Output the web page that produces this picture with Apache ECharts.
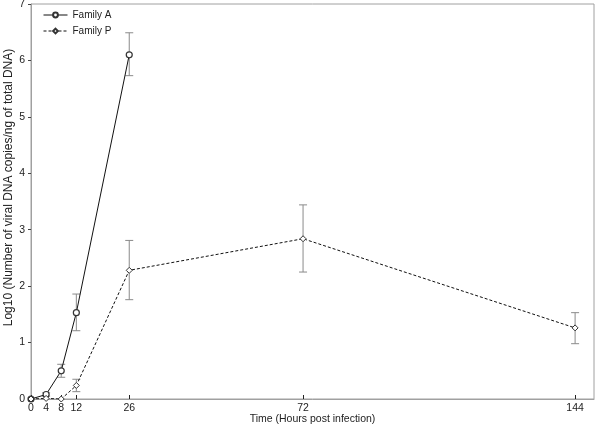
<!DOCTYPE html>
<html><head><meta charset="utf-8">
<script src="https://cdn.jsdelivr.net/npm/echarts@6/dist/echarts.min.js"></script>
<style>html,body{margin:0;padding:0;background:#fff}#c{width:600px;height:427px}</style>
</head><body><div id="c"></div>
<script>
var xTicks = [0, 4, 8, 12, 26, 72, 144];
var timeA = [0, 4, 8, 12, 26];
var valA = [0, 0.08, 0.50, 1.53, 6.10];
var lowA = [0, 0.05, 0.385, 1.21, 5.73];
var highA = [0, 0.11, 0.615, 1.86, 6.49];
var timeP = [0, 4, 8, 12, 26, 72, 144];
var valP = [0, 0.01, 0, 0.24, 2.28, 2.84, 1.26];
var lowP = [0, 0, 0, 0.13, 1.76, 2.25, 0.98];
var highP = [0, 0.02, 0, 0.35, 2.81, 3.44, 1.53];

function pts(t, v) { return t.map(function (x, i) { return [x, v[i]]; }); }
function errs(t, lo, hi) { return t.map(function (x, i) { return [x, lo[i], hi[i]]; }); }

function errRender(params, api) {
  var x = api.value(0);
  var p1 = api.coord([x, api.value(1)]);
  var p2 = api.coord([x, api.value(2)]);
  if (Math.abs(p1[1] - p2[1]) < 2) return null;
  var w = 4;
  var st = { stroke: '#8a8a8a', lineWidth: 1 };
  return { type: 'group', children: [
    { type: 'line', shape: { x1: p1[0], y1: p1[1], x2: p2[0], y2: p2[1] }, style: st },
    { type: 'line', shape: { x1: p1[0] - w, y1: p1[1], x2: p1[0] + w, y2: p1[1] }, style: st },
    { type: 'line', shape: { x1: p2[0] - w, y1: p2[1], x2: p2[0] + w, y2: p2[1] }, style: st }
  ]};
}

var chart = echarts.init(document.getElementById('c'));
var font = 'Liberation Sans, Arial, sans-serif';
chart.setOption({
  animation: false,
  textStyle: { fontFamily: font },
  grid: { left: 31, right: 6, top: 4, bottom: 28, show: true, borderColor: '#a0a0a0', borderWidth: 1,
          containLabel: false, outerBoundsMode: 'none' },
  legend: {
    data: ['Family A', 'Family P'], orient: 'vertical', left: 38, top: 5,
    itemWidth: 24, itemHeight: 6, itemGap: 6,
    lineStyle: { width: 1 },
    textStyle: { fontSize: 10, color: '#222', fontFamily: font }
  },
  xAxis: {
    type: 'value', min: 0, max: 149,
    axisLine: { onZero: false, lineStyle: { color: '#a0a0a0' } },
    axisTick: { show: true, inside: true, length: 4, customValues: xTicks, lineStyle: { color: '#222' } },
    axisLabel: { customValues: xTicks, color: '#222', fontSize: 10.5, margin: 4 },
    splitLine: { show: false },
    name: 'Time (Hours post infection)', nameLocation: 'middle', nameGap: 15, nameMoveOverlap: false,
    nameTextStyle: { fontSize: 10.5, color: '#222' }
  },
  yAxis: {
    type: 'value', min: 0, max: 7, interval: 1,
    axisLine: { show: true, lineStyle: { color: '#a0a0a0' } },
    axisTick: { show: true, length: 3, lineStyle: { color: '#444' } },
    axisLabel: { color: '#222', fontSize: 10.5, margin: 6 },
    splitLine: { show: false },
    name: 'Log10 (Number of viral DNA copies/ng of total DNA)', nameLocation: 'middle', nameGap: 16,
    nameMoveOverlap: false,
    nameTextStyle: { fontSize: 12, color: '#222', padding: [0, 0, 0, 28] }
  },
  series: [
    { type: 'custom', renderItem: errRender, data: errs(timeA, lowA, highA), z: 1, silent: true },
    { type: 'custom', renderItem: errRender, data: errs(timeP, lowP, highP), z: 1, silent: true },
    { name: 'Family A', type: 'line', data: pts(timeA, valA), symbol: 'circle', symbolSize: 6,
      lineStyle: { color: '#111', width: 1 },
      itemStyle: { color: '#fff', borderColor: '#333', borderWidth: 1.2 }, z: 3 },
    { name: 'Family P', type: 'line', data: pts(timeP, valP), symbol: 'diamond', symbolSize: 6,
      lineStyle: { color: '#111', width: 1, type: [3, 2] },
      itemStyle: { color: '#fff', borderColor: '#333', borderWidth: 1 }, z: 3 }
  ]
});
</script></body></html>
